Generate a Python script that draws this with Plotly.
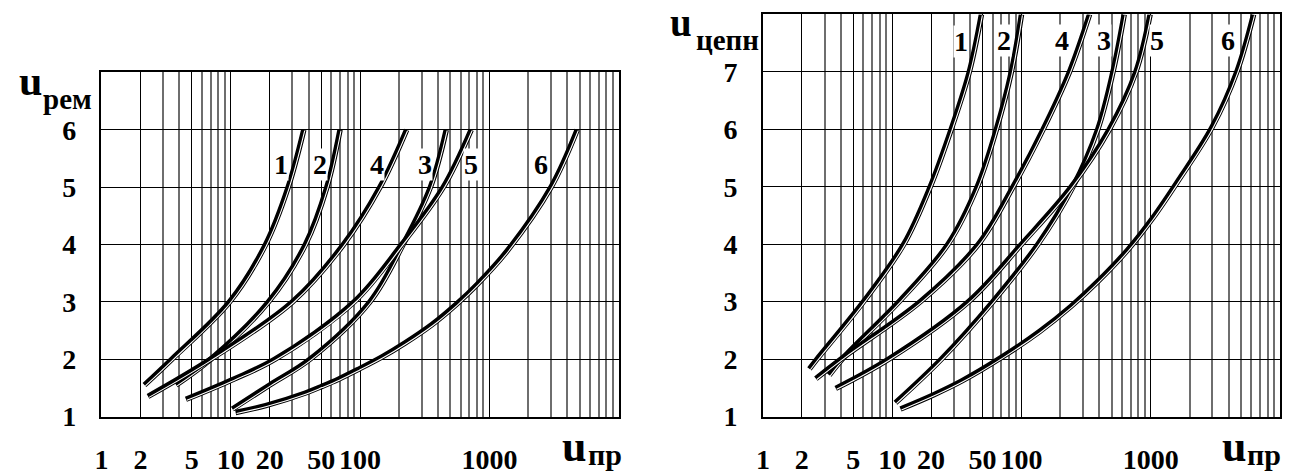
import numpy as np
import plotly.graph_objects as go

W, H = 1294, 476

# ---------------- data ----------------
# Left panel: u_рем versus u_пр
rem_1_x = [2.15, 3.5, 9.8, 18.6, 27.8, 36.7]
rem_1_y = [1.55, 2.0, 3.0, 4.0, 5.0, 6.0]
rem_2_x = [3.78, 7.0, 19.6, 37.8, 55.4, 70]
rem_2_y = [1.55, 2.0, 3.0, 4.0, 5.0, 6.0]
rem_4_x = [2.29, 7.0, 30, 74.4, 142.5, 229]
rem_4_y = [1.35, 2.0, 3.0, 4.0, 5.0, 6.0]
rem_3_x = [10.3, 20, 41, 119, 215, 350, 464]
rem_3_y = [1.13, 1.55, 2.0, 3.0, 4.0, 5.0, 6.0]
rem_5_x = [4.5, 10.5, 22, 90, 210, 440, 723]
rem_5_y = [1.30, 1.65, 2.0, 3.0, 4.0, 5.0, 6.0]
rem_6_x = [10.9, 18.6, 37.8, 50, 68, 96.5, 148, 222, 358, 557, 809, 1375, 3000, 4780]
rem_6_y = [1.07, 1.19, 1.41, 1.52, 1.65, 1.82, 2.04, 2.28, 2.60, 2.96, 3.31, 3.89, 5.0, 6.0]

# Right panel: u_цепн versus u_пр
cep_1_x = [2.29, 2.62, 6.0, 12.3, 19.7, 28.6, 39.5, 49]
cep_1_y = [1.83, 2.0, 3.0, 4.0, 5.0, 6.0, 7.0, 8.0]
cep_2_x = [3.26, 4.3, 11.3, 27, 45.5, 64, 83.5, 100]
cep_2_y = [1.72, 2.05, 3.0, 4.0, 5.0, 6.0, 7.0, 8.0]
cep_4_x = [2.57, 4.3, 16.5, 46.4, 86, 147, 235, 336]
cep_4_y = [1.66, 2.05, 3.0, 4.0, 5.0, 6.0, 7.0, 8.0]
cep_3_x = [10.6, 24, 60, 134, 250, 389, 510, 623]
cep_3_y = [1.24, 2.0, 3.0, 4.0, 5.0, 6.0, 7.0, 8.0]
cep_5_x = [3.66, 9.4, 39, 100, 243, 478, 767, 988]
cep_5_y = [1.49, 2.0, 3.0, 4.0, 5.0, 6.0, 7.0, 8.0]
cep_6_x = [11.6, 21, 34.6, 69, 138, 242, 389, 662, 1031, 1600, 2983, 4645, 6240]
cep_6_y = [1.13, 1.38, 1.62, 2.02, 2.48, 2.92, 3.35, 3.90, 4.45, 5.08, 6.04, 7.01, 8.0]

# curve number labels (data units)
rem_labels = ["1", "2", "4", "3", "5", "6"]
rem_label_x = [24.3, 49.2, 134, 319, 723, 2500]
rem_label_y = [5.40, 5.39, 5.40, 5.40, 5.40, 5.40]
cep_labels = ["1", "2", "4", "3", "5", "6"]
cep_label_x = [34.0, 73.3, 206, 432, 1110, 3945]
cep_label_y = [7.53, 7.55, 7.54, 7.54, 7.54, 7.54]

x_tick_vals = [1, 2, 5, 10, 20, 50, 100, 1000]
x_tick_text = ["1", "2", "5", "10", "20", "50", "100", "1000"]
rem_y_ticks = [1, 2, 3, 4, 5, 6]
cep_y_ticks = [1, 2, 3, 4, 5, 6, 7]

# ---------------- figure ----------------
FONT = "Liberation Serif"

def px_x(p):
    return p / W

def px_y(p):
    return 1 - p / H

fig = go.Figure()

def add_curve(xs, ys, xa, ya):
    xs = np.asarray(xs, float)
    ys = np.asarray(ys, float)
    fig.add_trace(go.Scatter(x=xs, y=ys, mode="lines", xaxis=xa, yaxis=ya,
                             line=dict(color="black", width=5.5, shape="spline",
                                       smoothing=1.0),
                             hoverinfo="skip", showlegend=False))
    # thin white inner stroke, nudged toward the lower right
    fig.add_trace(go.Scatter(x=xs * 10 ** 0.0072, y=ys - 0.016, mode="lines",
                             xaxis=xa, yaxis=ya,
                             line=dict(color="white", width=1.1, shape="spline",
                                       smoothing=1.0),
                             hoverinfo="skip", showlegend=False))

for xs, ys in [(rem_1_x, rem_1_y), (rem_2_x, rem_2_y), (rem_4_x, rem_4_y),
               (rem_3_x, rem_3_y), (rem_5_x, rem_5_y), (rem_6_x, rem_6_y)]:
    add_curve(xs, ys, "x", "y")
for xs, ys in [(cep_1_x, cep_1_y), (cep_2_x, cep_2_y), (cep_4_x, cep_4_y),
               (cep_3_x, cep_3_y), (cep_5_x, cep_5_y), (cep_6_x, cep_6_y)]:
    add_curve(xs, ys, "x2", "y2")

minor_vals = [m * 10 ** d for d in range(0, 4) for m in range(1, 10)
              if m * 10 ** d not in x_tick_vals and m * 10 ** d != 1]

tickfont = dict(family=FONT, size=28, color="black", weight="bold")

def xaxis(domain, anchor):
    return dict(type="log", range=[0, 4], domain=domain, anchor=anchor,
                tickmode="array", tickvals=x_tick_vals,
                ticktext=["<b>%s</b>" % t for t in x_tick_text],
                showgrid=True, gridcolor="black", gridwidth=1.2,
                minor=dict(tickmode="array", tickvals=minor_vals, showgrid=True,
                           gridcolor="#6e6e6e", gridwidth=1.6, ticks=""),
                showline=True, linecolor="black", linewidth=1.5, mirror=True,
                ticks="", ticklabelstandoff=17, tickfont=tickfont,
                zeroline=False)

def yaxis(domain, anchor, rng, ticks):
    return dict(range=rng, domain=domain, anchor=anchor,
                tickmode="array", tickvals=ticks,
                ticktext=["<b>%d</b>" % t for t in ticks],
                showgrid=True, gridcolor="black", gridwidth=1.3,
                showline=True, linecolor="black", linewidth=1.5, mirror=True,
                ticks="", ticklabelstandoff=18, tickfont=tickfont,
                zeroline=False)

fig.update_layout(
    width=W, height=H,
    margin=dict(l=0, r=0, t=0, b=0),
    paper_bgcolor="white", plot_bgcolor="white",
    showlegend=False,
    xaxis=xaxis([px_x(95), px_x(615)], "y"),
    yaxis=yaxis([px_y(431), px_y(75)], "x", [1, 7], rem_y_ticks),
    xaxis2=xaxis([px_x(760), px_x(1280)], "y2"),
    yaxis2=yaxis([px_y(431), px_y(15)], "x2", [1, 8], cep_y_ticks),
)

ann = []
lab_font = dict(family=FONT, size=28, color="black", weight="bold")
for t, x, y in zip(rem_labels, rem_label_x, rem_label_y):
    ann.append(dict(text="<b>%s</b>" % t, x=np.log10(x), y=y, xref="x", yref="y",
                    showarrow=False, bgcolor="white", borderpad=0, font=lab_font))
for t, x, y in zip(cep_labels, cep_label_x, cep_label_y):
    ann.append(dict(text="<b>%s</b>" % t, x=np.log10(x), y=y, xref="x2", yref="y2",
                    showarrow=False, bgcolor="white", borderpad=0, font=lab_font))

def title(text, left, pos, size, anchor="middle"):
    ann.append(dict(text="<b>%s</b>" % text, x=px_x(left), y=px_y(pos),
                    xref="paper", yref="paper", xanchor="left", yanchor=anchor,
                    showarrow=False, borderpad=0,
                    font=dict(family=FONT, size=size, color="black", weight="bold")))

# axis names
title("u", 11, 84, 42)
title("рем", 35, 102, 29)
title("u", 666, 0, 39, anchor="top")
title("цепн", 692, 41, 29)
title("u", 557, 462, 44)
title("пр", 583, 470, 30)
title("u", 1221, 462, 44)
title("пр", 1246, 470, 30)

fig.update_layout(annotations=ann)
fig.write_html("out.html")
